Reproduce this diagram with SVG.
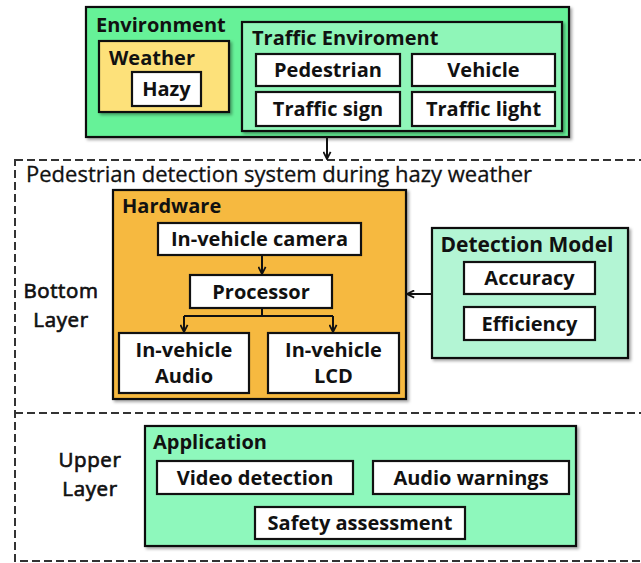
<svg xmlns="http://www.w3.org/2000/svg" width="641" height="563" viewBox="0 0 641 563">
  <style>
    text { font-family: "Open Sans", "Noto Sans", "DejaVu Sans", sans-serif; font-size: 20px; font-weight: 700; fill: #111; }
    .mid { text-anchor: middle; }
    .reg { font-weight: 400; font-size: 22px; stroke: #111; stroke-width: 0.3; }
    .semi { font-weight: 400; font-size: 20.5px; letter-spacing: 0.6px; stroke: #111; stroke-width: 0.7; }
    .box { stroke: #111; stroke-width: 2.2; filter: url(#shadow); }
    .item { fill: #fff; stroke: #111; stroke-width: 2.2; }
    .dash { fill: none; stroke: #333; stroke-width: 2; stroke-dasharray: 8 4; }
    .wire { fill: none; stroke: #111; stroke-width: 2; }
  </style>
  <defs>
    <filter id="shadow" x="-5%" y="-5%" width="115%" height="115%">
      <feDropShadow dx="2" dy="2" stdDeviation="1.5" flood-color="#000" flood-opacity="0.35"/>
    </filter>
    <marker id="arrow" viewBox="0 0 10 10" refX="9" refY="5" markerWidth="9" markerHeight="9" markerUnits="userSpaceOnUse" orient="auto">
      <path d="M1,1 L9,5 L1,9" fill="none" stroke="#111" stroke-width="2"/>
    </marker>
  </defs>

  <rect width="641" height="563" fill="#fff"/>

  <!-- system frame with layer divider -->
  <g id="system">
    <rect class="dash" x="15" y="160" width="640" height="401"/>
    <line class="dash" x1="15" y1="413" x2="641" y2="413"/>
    <text class="reg" x="26" y="182">Pedestrian detection system during hazy weather</text>
    <text class="mid semi" x="61" y="298">Bottom</text>
    <text class="mid semi" x="61" y="327">Layer</text>
    <text class="mid semi" x="90" y="467">Upper</text>
    <text class="mid semi" x="90" y="496">Layer</text>
  </g>

  <!-- environment -->
  <g id="environment">
    <rect class="box" x="86" y="7" width="483" height="130" fill="#66f298"/>
    <text x="96" y="32">Environment</text>
  </g>
  <g id="weather">
    <rect class="box" x="99" y="41" width="130" height="71" fill="#fde17a"/>
    <text x="109" y="65">Weather</text>
    <rect class="item" x="132" y="72" width="69" height="34"/>
    <text class="mid" x="166.5" y="96">Hazy</text>
  </g>
  <g id="traffic">
    <rect class="box" x="242" y="22" width="320" height="109" fill="#8ff6b8"/>
    <text x="252" y="45">Traffic Enviroment</text>
    <rect class="item" x="256" y="54" width="144" height="32"/>
    <text class="mid" x="328" y="77">Pedestrian</text>
    <rect class="item" x="412" y="54" width="143" height="32"/>
    <text class="mid" x="483.5" y="77">Vehicle</text>
    <rect class="item" x="256" y="92" width="144" height="34"/>
    <text class="mid" x="328" y="116">Traffic sign</text>
    <rect class="item" x="412" y="92" width="143" height="34"/>
    <text class="mid" x="483.5" y="116">Traffic light</text>
  </g>

  <!-- hardware -->
  <g id="hardware">
    <rect class="box" x="113" y="190" width="293" height="209" fill="#f6b93f"/>
    <text x="122" y="213">Hardware</text>
  </g>
  <g id="camera">
    <rect class="item" x="158" y="223" width="203" height="32"/>
    <text class="mid" x="259.5" y="246">In-vehicle camera</text>
  </g>
  <g id="processor">
    <rect class="item" x="190" y="275" width="142" height="33"/>
    <text class="mid" x="261" y="299">Processor</text>
  </g>
  <g id="audio">
    <rect class="item" x="119" y="333" width="130" height="60"/>
    <text class="mid"><tspan x="184" y="357">In-vehicle</tspan><tspan x="184" y="383">Audio</tspan></text>
  </g>
  <g id="lcd">
    <rect class="item" x="268" y="333" width="131" height="60"/>
    <text class="mid"><tspan x="333.5" y="357">In-vehicle</tspan><tspan x="333.5" y="383">LCD</tspan></text>
  </g>

  <!-- detection model -->
  <g id="model">
    <rect class="box" x="432" y="228" width="196" height="130" fill="#b3f5d4"/>
    <text class="mid" x="527" y="252" style="font-size:21px">Detection Model</text>
    <rect class="item" x="464" y="262" width="131" height="32"/>
    <text class="mid" x="529.5" y="285">Accuracy</text>
    <rect class="item" x="464" y="307" width="131" height="33"/>
    <text class="mid" x="529.5" y="331">Efficiency</text>
  </g>

  <!-- application -->
  <g id="application">
    <rect class="box" x="145" y="426" width="431" height="120" fill="#8ef8bc"/>
    <text x="153" y="449">Application</text>
    <rect class="item" x="157" y="461" width="196" height="33"/>
    <text class="mid" x="255" y="485">Video detection</text>
    <rect class="item" x="373" y="461" width="196" height="33"/>
    <text class="mid" x="471" y="485">Audio warnings</text>
    <rect class="item" x="255" y="507" width="210" height="32"/>
    <text class="mid" x="360" y="530">Safety assessment</text>
  </g>

  <!-- connectors -->
  <g id="connectors">
    <line class="wire" x1="327" y1="137" x2="327" y2="159" marker-end="url(#arrow)"/>
    <line class="wire" x1="262" y1="255" x2="262" y2="274" marker-end="url(#arrow)"/>
    <polyline class="wire" points="262,308 262,316"/>
    <line class="wire" x1="184" y1="316" x2="333" y2="316"/>
    <line class="wire" x1="184" y1="316" x2="184" y2="332" marker-end="url(#arrow)"/>
    <line class="wire" x1="333" y1="316" x2="333" y2="332" marker-end="url(#arrow)"/>
    <line class="wire" x1="432" y1="294" x2="407" y2="294" marker-end="url(#arrow)"/>
  </g>
</svg>
